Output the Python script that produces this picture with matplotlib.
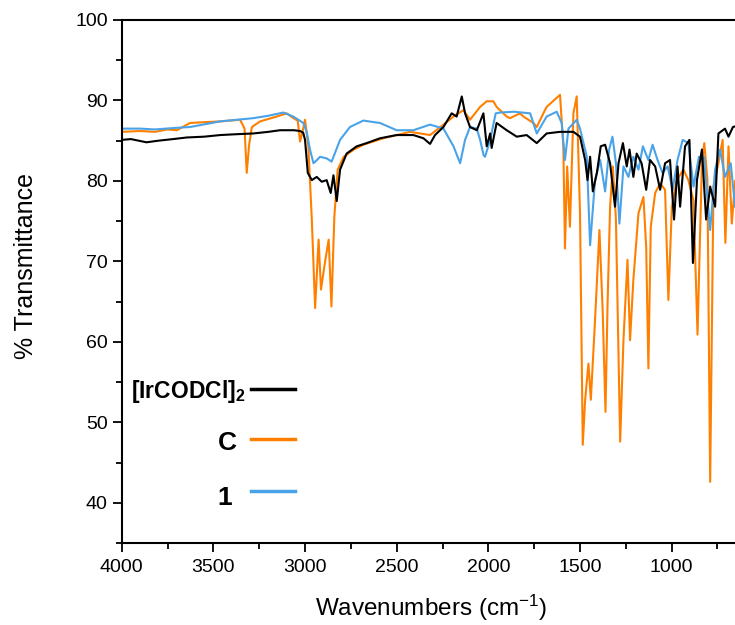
import matplotlib
matplotlib.use("Agg")
import matplotlib.pyplot as plt
from matplotlib.ticker import MultipleLocator

plt.rcParams['font.family'] = ['Liberation Sans', 'DejaVu Sans']
plt.rcParams['mathtext.fontset'] = 'custom'
plt.rcParams['mathtext.rm'] = 'Liberation Sans'
plt.rcParams['mathtext.it'] = 'Liberation Sans:italic'
plt.rcParams['mathtext.bf'] = 'Liberation Sans:bold'

# [IrCODCl]2 spectrum (wavenumber, %T)
ir_wn = [4000, 3950, 3865, 3800, 3720, 3645, 3550, 3463, 3380, 3282, 3200, 3136,
         3060, 3027, 3010, 3000, 2985, 2963, 2936, 2909, 2882, 2860, 2845, 2827,
         2809, 2773, 2718, 2664, 2591, 2500, 2409, 2354, 2318, 2291, 2245, 2200,
         2173, 2145, 2127, 2100, 2063, 2027, 2009, 1990, 1982, 1955, 1900, 1845,
         1791, 1736, 1682, 1609, 1536, 1500, 1472, 1459, 1445, 1430, 1408, 1387,
         1363, 1336, 1309, 1290, 1266, 1245, 1230, 1209, 1191, 1164, 1139, 1118,
         1090, 1063, 1036, 1009, 987, 968, 954, 927, 903, 884, 862, 835, 812, 790,
         763, 745, 709, 690, 666, 650]
ir_t = [85.1, 85.2, 84.8, 85.0, 85.2, 85.4, 85.5, 85.7, 85.8, 85.9, 86.1, 86.3,
        86.3, 86.2, 86.0, 85.1, 81.0, 80.1, 80.5, 79.9, 80.1, 78.5, 80.7, 77.5,
        81.4, 83.4, 84.3, 84.7, 85.3, 85.7, 85.7, 85.3, 84.6, 85.7, 86.7, 88.4,
        88.0, 90.5, 88.4, 86.7, 86.3, 88.4, 84.3, 85.9, 84.1, 87.2, 86.3, 85.5,
        85.7, 84.7, 85.9, 86.1, 86.1, 85.5, 82.6, 80.1, 83.0, 78.7, 81.0, 84.3,
        84.5, 82.2, 76.8, 82.2, 84.7, 81.8, 83.9, 80.5, 83.4, 82.2, 78.9, 82.6,
        81.8, 78.9, 82.2, 82.6, 75.2, 81.8, 76.8, 84.3, 85.1, 69.8, 80.1, 83.9,
        75.2, 79.3, 76.8, 85.9, 86.5, 85.5, 86.7, 86.8]

# C spectrum
c_wn = [4000, 3900, 3819, 3750, 3700, 3627, 3550, 3463, 3354, 3330, 3318, 3305,
        3290, 3245, 3155, 3100, 3064, 3040, 3027, 3010, 3000, 2982, 2963, 2945,
        2926, 2913, 2889, 2871, 2856, 2840, 2822, 2789, 2734, 2682, 2573, 2427,
        2318, 2245, 2190, 2136, 2100, 2045, 2009, 1973, 1955, 1900, 1882, 1827,
        1809, 1754, 1736, 1700, 1682, 1609, 1591, 1582, 1570, 1555, 1536, 1518,
        1500, 1485, 1472, 1454, 1441, 1418, 1394, 1376, 1361, 1350, 1336, 1321,
        1304, 1281, 1263, 1241, 1227, 1209, 1181, 1154, 1139, 1127, 1114, 1090,
        1063, 1036, 1018, 999, 972, 936, 909, 881, 859, 835, 822, 805, 790, 772,
        745, 722, 707, 690, 672, 654]
c_t = [86.1, 86.2, 86.1, 86.4, 86.3, 87.2, 87.3, 87.4, 87.6, 86.5, 81.0, 84.5,
       86.7, 87.4, 88.0, 88.4, 87.8, 87.5, 84.9, 86.5, 87.6, 84.3, 75.2, 64.2,
       72.7, 66.5, 70.2, 72.7, 64.4, 75.6, 81.4, 83.0, 83.9, 84.5, 85.3, 86.1,
       85.7, 87.0, 88.0, 88.8, 87.6, 89.2, 89.9, 89.9, 89.2, 88.0, 87.8, 88.4,
       88.0, 87.2, 86.7, 88.4, 89.2, 90.7, 84.3, 71.6, 81.8, 74.3, 88.4, 90.5,
       76.0, 47.2, 52.8, 57.3, 52.8, 62.7, 73.9, 63.6, 51.3, 64.4, 76.8, 81.8,
       75.2, 47.6, 60.2, 70.2, 60.2, 67.7, 76.0, 78.0, 71.8, 56.7, 74.3, 78.5,
       79.7, 78.9, 65.2, 76.8, 80.1, 81.4, 80.1, 77.6, 60.9, 82.2, 84.7, 80.1,
       42.6, 79.3, 82.2, 85.1, 72.3, 84.3, 74.7, 80.0]

# compound 1 spectrum
c1_wn = [4000, 3900, 3819, 3700, 3627, 3463, 3282, 3200, 3118, 3064, 3009, 2990,
         2973, 2954, 2935, 2918, 2882, 2855, 2809, 2755, 2682, 2591, 2500, 2409,
         2318, 2245, 2190, 2154, 2127, 2100, 2063, 2045, 2026, 2018, 1990, 1960,
         1936, 1860, 1772, 1736, 1682, 1627, 1600, 1582, 1563, 1518, 1500, 1463,
         1445, 1418, 1390, 1363, 1341, 1323, 1304, 1285, 1263, 1236, 1209, 1181,
         1157, 1127, 1104, 1077, 1050, 1022, 995, 968, 940, 909, 881, 851, 824,
         790, 763, 736, 709, 678, 654]
c1_t = [86.5, 86.5, 86.4, 86.6, 86.7, 87.4, 87.8, 88.1, 88.5, 88.0, 87.2, 86.0,
        83.9, 82.2, 82.6, 83.0, 82.8, 82.4, 85.1, 86.7, 87.5, 87.2, 86.3, 86.3,
        87.0, 86.5, 84.3, 82.2, 85.1, 86.7, 86.5, 85.1, 83.2, 83.0, 85.1, 88.4,
        88.5, 88.6, 88.4, 85.9, 88.0, 88.6, 87.2, 82.6, 86.5, 87.6, 86.5, 83.0,
        72.0, 80.1, 82.6, 78.7, 83.9, 85.5, 82.2, 74.7, 81.8, 80.5, 83.0, 81.4,
        84.3, 82.6, 84.5, 82.6, 81.0, 81.8, 78.9, 82.6, 85.1, 84.7, 79.3, 83.0,
        83.0, 73.9, 81.4, 83.9, 80.5, 82.2, 76.8]

labels = ['[IrCODCl]$_\\mathbf{2}$', 'C', '1']
colors = ['#000000', '#FF8000', '#4AA3E8']

fig = plt.figure(figsize=(7.35, 6.25), dpi=100)
ax = fig.add_axes([0.1656, 0.1312, 0.8480, 0.8368])

ax.plot(c_wn, c_t, color=colors[1], lw=1.5)
ax.plot(c1_wn, c1_t, color=colors[2], lw=1.5)
ax.plot(ir_wn, ir_t, color=colors[0], lw=1.5)

ax.set_xlim(4000, 600)
ax.set_ylim(35, 100)
ax.xaxis.set_major_locator(MultipleLocator(500))
ax.xaxis.set_minor_locator(MultipleLocator(250))
ax.yaxis.set_major_locator(MultipleLocator(10))
ax.yaxis.set_minor_locator(MultipleLocator(5))
ax.set_yticks([40, 50, 60, 70, 80, 90, 100])

ax.tick_params(which='both', direction='out', top=False, right=False, width=1.3)
ax.tick_params(which='major', length=6.5, labelsize=14)
ax.tick_params(axis='x', which='major', pad=5)
ax.tick_params(axis='y', which='major', pad=3.5)
ax.tick_params(which='minor', length=4)
for s in ax.spines.values():
    s.set_linewidth(1.5)

ax.set_xlabel('Wavenumbers (cm$^{-1}$)', fontsize=17.5)
ax.set_ylabel('% Transmittance', fontsize=18)
ax.xaxis.set_label_coords(0.497, -0.096)
ax.yaxis.set_label_coords(-0.1345, 0.53)

# legend drawn by hand: text on the left, line sample on the right
leg_line_y = [0.2939, 0.1989, 0.0994]
leg_text_x = [0.1982, 0.1848, 0.1768]
leg_text_y = [0.2906, 0.1912, 0.0855]
leg_size = [16.5, 19, 19]
for i in range(3):
    ax.plot([0.2073, 0.2774], [leg_line_y[i]] * 2, color=colors[i], lw=2.5,
            transform=ax.transAxes)
    ax.text(leg_text_x[i], leg_text_y[i], labels[i], transform=ax.transAxes,
            ha='right', va='center', fontsize=leg_size[i], fontweight='bold')

fig.savefig('out.png', dpi=100)
